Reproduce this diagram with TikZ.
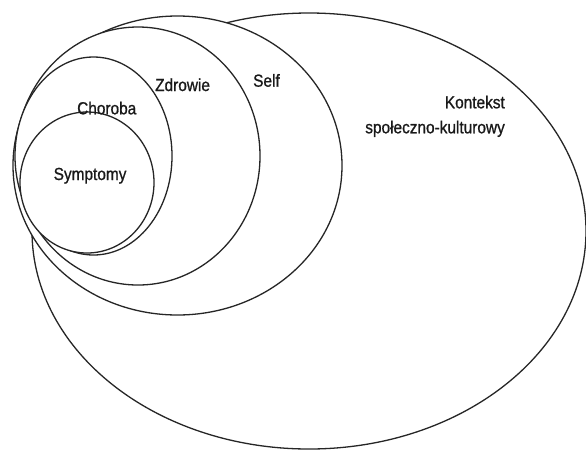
\documentclass[tikz,border=0pt]{standalone}
\usepackage{fontspec}
\setmainfont[FakeStretch=0.88,FakeBold=0.9]{Liberation Sans}
\begin{document}
\begin{tikzpicture}[x=1pt,y=-1pt,
  ring/.style={draw=black!85, line width=1.3pt, fill=white},
  lbl/.style={inner sep=0pt, anchor=base west, text=black!90,
    font=\fontsize{17.5}{25}\selectfont}]
  \useasboundingbox[fill=white] (0,0) rectangle (586,451);
  % nested ellipses, outermost first so each inner one covers the one below
  \draw[ring] (309,231) ellipse [x radius=277pt, y radius=218pt];
  \draw[ring] (177.5,165.5) ellipse [x radius=164.5pt, y radius=149.5pt];
  \draw[ring] (138,156) ellipse [x radius=122pt, y radius=129pt];
  \draw[ring] (93.5,156) ellipse [x radius=78.5pt, y radius=99pt];
  \draw[ring] (87,182.5) ellipse [x radius=67pt, y radius=70.5pt];
  % labels
  \node[lbl] (symptomy) at (53.5,180) {Symptomy};
  \node[lbl] (choroba) at (77,114.3) {Choroba};
  \node[lbl] (zdrowie) at (155,91) {Zdrowie};
  \node[lbl] (self) at (253,86.7) {Self};
  \node[lbl, anchor=base east] (kontekst) at (505,108.3) {Kontekst};
  \node[lbl, anchor=base east] (spoleczno) at (505,133.3) {społeczno-kulturowy};
\end{tikzpicture}
\end{document}
